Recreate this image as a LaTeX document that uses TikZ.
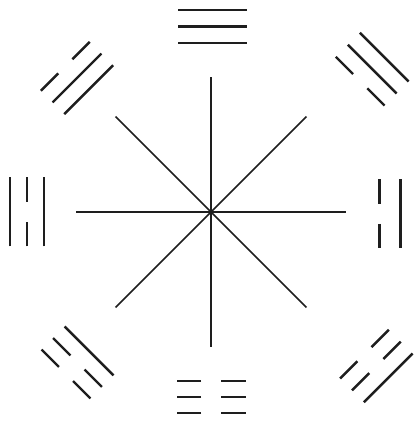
\documentclass[tikz,border=0pt]{standalone}
\usepackage{tikz}
\usetikzlibrary{calc}
\definecolor{inkblack}{RGB}{30, 30, 30}

\begin{document}
\begin{tikzpicture}[
    x=0.025cm, y=0.025cm,
    ray/.style={line width=1.2pt, draw=inkblack},
    yao/.style={line width=1.7pt, draw=inkblack}
]
    % Frame
    \clip (0,0) rectangle (417,422);
    \fill[white] (0,0) rectangle (417,422);

    % Centre and star
    \coordinate (centre) at (211,210);
    \foreach \a in {0,45,...,315}
        \path (centre) ++(\a:135) coordinate (tip\a);
    \foreach \a in {0,45,...,315}
        \draw[ray] (centre) -- (tip\a);

    % Trigrams: angle / radius / spacing / shift / lines (inner to outer, 1 = solid)
    \foreach \a/\r/\d/\t/\p in {90/169/16.5/1.5/{1,1,1}, 45/198/17/13/{0,1,1},
                               0/168.5/21/2/{0,1,0}, -45/209/16.8/-8/{0,0,1},
                               -90/169/16/0/{0,0,0}, -135/184.5/16.3/-12/{1,0,0},
                               180/167/17/0/{1,0,1}, 135/173/16.5/0/{1,1,0}} {
        \begin{scope}[shift={(centre)}, rotate=\a-90]
            \foreach \b [count=\k from 0] in \p {
                \pgfmathsetmacro\y{\r+\k*\d}
                \ifnum\b=1
                    \draw[yao] ({\t-34.5},\y) -- ({\t+34.5},\y);
                \else
                    \draw[yao] ({\t-34.5},\y) -- ({\t-10},\y);
                    \draw[yao] ({\t+10},\y) -- ({\t+34.5},\y);
                \fi
            }
        \end{scope}
    }
\end{tikzpicture}
\end{document}
